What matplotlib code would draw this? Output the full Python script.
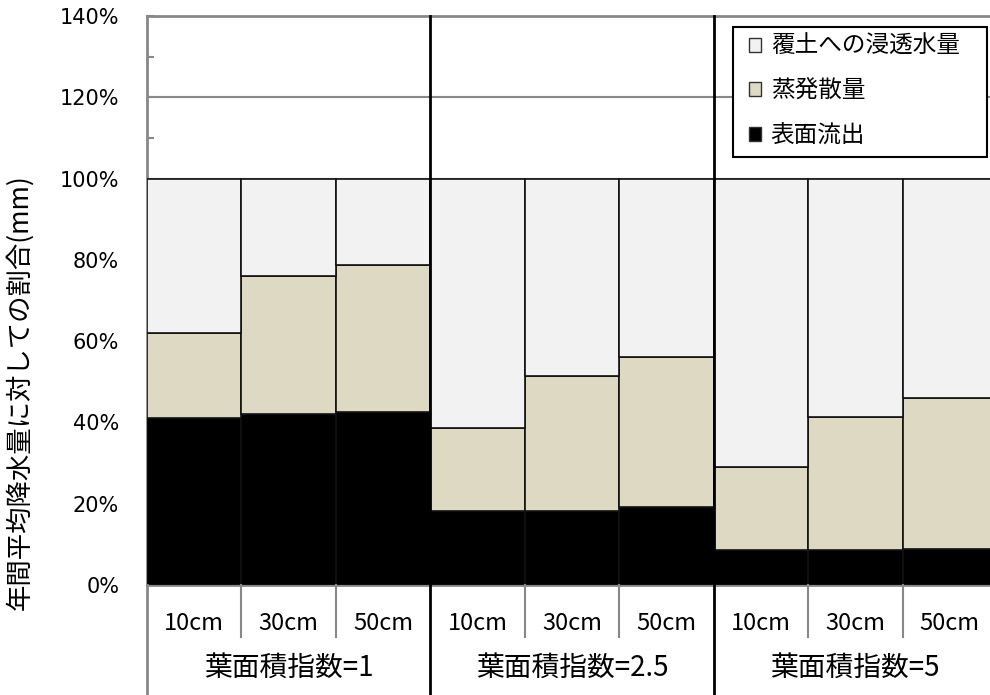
import matplotlib
matplotlib.use("Agg")
import matplotlib.pyplot as plt
from matplotlib.ticker import MultipleLocator, PercentFormatter
from matplotlib.patches import Rectangle
import matplotlib.transforms as mtransforms

plt.rcParams['font.family'] = ['Noto Sans CJK JP', 'DejaVu Sans']

# ---- data ----
depths = ["10cm", "30cm", "50cm", "10cm", "30cm", "50cm", "10cm", "30cm", "50cm"]
groups = ["葉面積指数=1", "葉面積指数=2.5", "葉面積指数=5"]
runoff = [41.2, 42.1, 42.5, 18.2, 18.2, 19.1, 8.5, 8.5, 8.9]          # 表面流出
evap = [20.7, 33.9, 36.3, 20.4, 33.3, 37.0, 20.5, 32.9, 37.0]         # 蒸発散量
infil = [38.1, 24.0, 21.2, 61.4, 48.5, 43.9, 71.0, 58.6, 54.1]        # 覆土への浸透水量
series_names = ["表面流出", "蒸発散量", "覆土への浸透水量"]
yticks = [0, 20, 40, 60, 80, 100, 120, 140]

W, H = 990, 695
fig = plt.figure(figsize=(W / 100, H / 100), dpi=100)
ax = fig.add_axes([147 / W, (H - 585) / H, (997 - 147) / W, (585 - 16) / H])

x = list(range(len(depths)))
c_run, c_eva, c_inf = "#000000", "#DDD9C3", "#F2F2F2"
bottom2 = [a + b for a, b in zip(runoff, evap)]
b1 = ax.bar(x, runoff, width=1.0, color=c_run, edgecolor="#111111", linewidth=1.2, zorder=3, label=series_names[0])
b2 = ax.bar(x, evap, width=1.0, bottom=runoff, color=c_eva, edgecolor="#111111", linewidth=1.2, zorder=3, label=series_names[1])
b3 = ax.bar(x, infil, width=1.0, bottom=bottom2, color=c_inf, edgecolor="#111111", linewidth=1.2, zorder=3, label=series_names[2])

ax.set_xlim(-0.5, len(depths) - 0.5)
ax.set_ylim(0, 140)
ax.set_yticks(yticks)
ax.yaxis.set_minor_locator(MultipleLocator(10))
ax.yaxis.set_major_formatter(PercentFormatter(decimals=0))
ax.grid(axis='y', color="#888888", linewidth=1.5, zorder=0)
ax.set_axisbelow(True)
ax.tick_params(axis='y', which='both', direction='in', length=5, width=1.5, color="#888888",
               labelsize=15, pad=20, labelfontfamily='DejaVu Sans')
ax.tick_params(axis='x', which='both', bottom=False, labelbottom=False)
ax.spines['right'].set_visible(False)
for s in ['left', 'top', 'bottom']:
    ax.spines[s].set_color("#888888")
    ax.spines[s].set_linewidth(2)

# group separators (full height, into category area)
trans = mtransforms.blended_transform_factory(ax.transData, ax.transAxes)
ybot = -(H - 585) / (585 - 16)
ymid = -(637 - 585) / (585 - 16)
for gx in [2.5, 5.5]:
    ax.plot([gx, gx], [ybot, 1.0], color="black", linewidth=2, transform=trans, clip_on=False, zorder=5)
for ix in [0.5, 1.5, 3.5, 4.5, 6.5, 7.5]:
    ax.plot([ix, ix], [ymid, 0], color="#888888", linewidth=1.5, transform=trans, clip_on=False, zorder=5)
ax.plot([-0.5, -0.5], [ybot, 0], color="#888888", linewidth=2, transform=trans, clip_on=False, zorder=5)

# category labels
y_depth = -(623 - 585) / (585 - 16)
y_group = -(668 - 585) / (585 - 16)
for i, d in enumerate(depths):
    ax.text(i, y_depth, d, transform=trans, ha='center', va='center', fontsize=17)
for g, name in enumerate(groups):
    ax.text(3 * g + 1, y_group, name, transform=trans, ha='center', va='center', fontsize=20)

# y label
fig.text(20 / W, 1 - 392 / H, "年間平均降水量に対しての割合(mm)", rotation=90,
         ha='center', va='center', fontsize=19)

# legend (frame drawn separately)
leg = fig.legend(handles=[b3, b2, b1], loc='upper left', bbox_to_anchor=(749 / W, 1 - 35 / H),
                 bbox_transform=fig.transFigure,
                 fontsize=17, frameon=False, borderpad=0, borderaxespad=0,
                 handlelength=0.52, handleheight=0.52, handletextpad=0.4, labelspacing=0.92)
leg.set_zorder(10)
for h in leg.legend_handles:
    h.set_edgecolor("#333333")
    h.set_linewidth(1.0)
frame = Rectangle((733 / W, 1 - 157 / H), (987 - 733) / W, (157 - 27) / H, transform=fig.transFigure,
                  facecolor='white', edgecolor='black', linewidth=1.5, zorder=9)
fig.patches.append(frame)

fig.savefig("out.png", dpi=100)
